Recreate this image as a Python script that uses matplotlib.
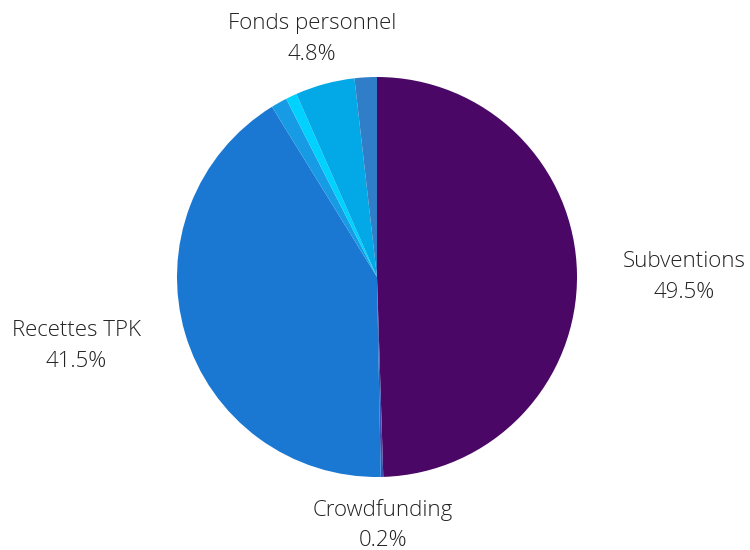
import matplotlib.pyplot as plt

plt.rcParams['font.family'] = ['Open Sans', 'DejaVu Sans']

# shares of funding, clockwise from 12 o'clock
sources = ["Subventions", "Crowdfunding", "Recettes TPK", "Autres", "Mécénat",
           "Fonds personnel", "Divers"]
shares = [49.5, 0.2, 41.5, 1.3, 0.9, 4.8, 1.8]
labelled = ["Subventions", "Crowdfunding", "Recettes TPK", "Fonds personnel"]

colors = ["#4a0766", "#3d4fb0", "#1a78d2", "#169be4", "#00d2ff", "#03a8e6", "#2f7ec7"]
# where each label sits, in pie radii from the centre
label_pos = {"Subventions": (1.535, 0.0), "Crowdfunding": (0.03, -1.24),
             "Recettes TPK": (-1.505, -0.345), "Fonds personnel": (-0.325, 1.19)}

fig = plt.figure(figsize=(7.5, 5.5), dpi=100)
ax = fig.add_axes([177 / 750, 73 / 550, 400 / 750, 400 / 550])

wedges, _ = ax.pie(shares, colors=colors, startangle=90, counterclock=False,
                   radius=1, wedgeprops=dict(linewidth=0))
ax.set_xlim(-1, 1)
ax.set_ylim(-1, 1)
ax.set_aspect('equal')
ax.axis('off')

for name, val in zip(sources, shares):
    if name not in labelled:
        continue
    x, y = label_pos[name]
    ax.text(x, y, f"{name}\n{val:.1f}%",
            ha='center', va='center', multialignment='center',
            fontsize=16, fontweight='light', color='#222222',
            linespacing=1.6, clip_on=False)

fig.savefig("out.png", dpi=100)
